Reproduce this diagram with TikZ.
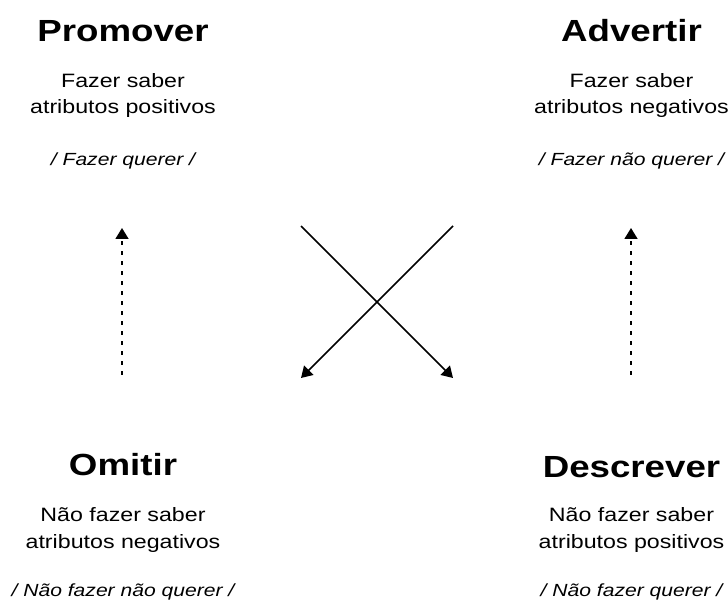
\documentclass[tikz,border=0pt]{standalone}
\usepackage{fontspec}
\setmainfont{Liberation Sans}[FakeStretch=1.2]
\usetikzlibrary{arrows.meta}

\tikzset{
    titulo/.style={anchor=base, inner sep=0pt, font=\fontsize{17.4}{20}\selectfont\bfseries},
    texto/.style={anchor=base, inner sep=0pt, align=center, font=\fontsize{11}{14.8}\selectfont},
    fala/.style={anchor=base, inner sep=0pt, font=\fontsize{10}{12}\selectfont\itshape},
    seta/.style={black, line width=0.9pt, -{Triangle[width=0.26cm,length=0.22cm]}},
    tracejada/.style={seta, dash pattern=on 0.08cm off 0.12cm}
}

\begin{document}
\begin{tikzpicture}
    \useasboundingbox (0,0) rectangle (14.56,12.04);
    % quadrantes de cima
    \node[titulo] (promover) at (2.46,11.2) {Promover};
    \node[texto] (promovertxt) at (2.46,9.76) {Fazer saber\\atributos positivos};
    \node[fala] (promoverfala) at (2.46,8.72) {/ Fazer querer /};
    \node[titulo] (advertir) at (12.63,11.2) {Advertir};
    \node[texto] (advertirtxt) at (12.63,9.76) {Fazer saber\\atributos negativos};
    \node[fala] (advertirfala) at (12.63,8.72) {/ Fazer não querer /};
    % quadrantes de baixo
    \node[titulo] (omitir) at (2.46,2.54) {Omitir};
    \node[texto] (omitirtxt) at (2.46,1.08) {Não fazer saber\\atributos negativos};
    \node[fala] (omitirfala) at (2.46,0.12) {/ Não fazer não querer /};
    \node[titulo] (descrever) at (12.63,2.5) {Descrever};
    \node[texto] (descrevertxt) at (12.63,1.08) {Não fazer saber\\atributos positivos};
    \node[fala] (descreverfala) at (12.63,0.12) {/ Não fazer querer /};
    % pontas das setas
    \coordinate (omitirbase) at (2.44,4.54);
    \coordinate (promoverpta) at (2.44,7.48);
    \coordinate (descreverbase) at (12.62,4.54);
    \coordinate (advertirpta) at (12.62,7.48);
    \coordinate (cruzae) at (6.02,7.52);
    \coordinate (cruzad) at (9.06,7.52);
    \coordinate (cruzbe) at (6.02,4.48);
    \coordinate (cruzbd) at (9.06,4.48);
    \draw[tracejada] (omitirbase) -- (promoverpta);
    \draw[tracejada] (descreverbase) -- (advertirpta);
    \draw[seta] (cruzae) -- (cruzbd);
    \draw[seta] (cruzad) -- (cruzbe);
\end{tikzpicture}
\end{document}
